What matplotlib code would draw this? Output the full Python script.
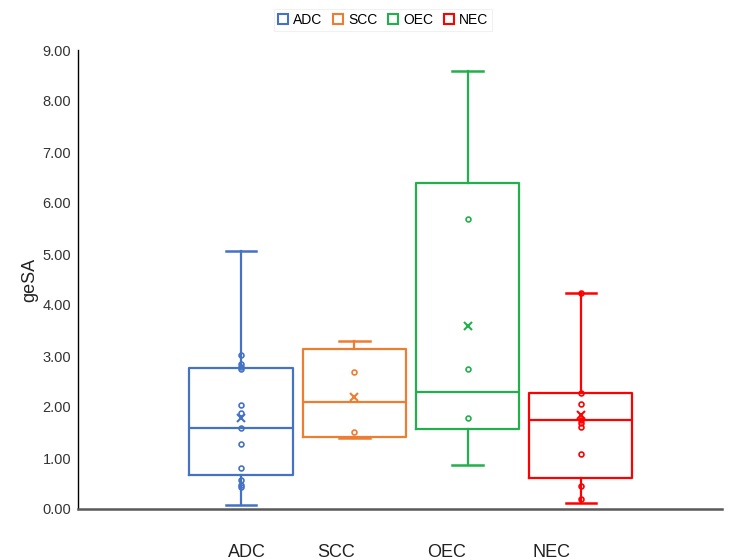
import matplotlib
matplotlib.use('Agg')
import matplotlib.pyplot as plt
from matplotlib.patches import Rectangle

plt.rcParams['font.family'] = ['Liberation Sans', 'DejaVu Sans']

groups = ['ADC', 'SCC', 'OEC', 'NEC']
colors = ['#4472C4', '#ED7D31', '#21B04B', '#FF0000']

# box statistics
whisker_low = [0.08, 1.39, 0.86, 0.12]
q1 = [0.66, 1.41, 1.57, 0.61]
median = [1.59, 2.10, 2.29, 1.75]
q3 = [2.76, 3.14, 6.39, 2.27]
whisker_high = [5.06, 3.30, 8.58, 4.23]
mean = [1.78, 2.20, 3.58, 1.85]

# individual points shown inside the boxes
points = {
    'ADC': [3.02, 2.84, 2.79, 2.74, 2.04, 1.89, 1.59, 1.27, 0.80, 0.57, 0.48, 0.44],
    'SCC': [2.69, 1.51],
    'OEC': [5.68, 2.75, 1.79],
    'NEC': [4.23, 2.27, 2.05, 1.75, 1.69, 1.61, 1.08, 0.46, 0.20],
}

positions = [1, 2, 3, 4]
label_pos = [1.053, 1.838, 2.818, 3.736]  # category labels are offset in the original

fig = plt.figure(figsize=(7.38, 5.6), dpi=100)
ax = fig.add_axes([78 / 738, 51 / 560, 644 / 738, 459 / 560])

for i, g in enumerate(groups):
    stats = [{'whislo': whisker_low[i], 'q1': q1[i], 'med': median[i], 'q3': q3[i],
              'whishi': whisker_high[i], 'mean': mean[i], 'fliers': points[g]}]
    c = colors[i]
    ax.bxp(stats, positions=[positions[i]], widths=0.91, capwidths=0.27,
           showmeans=True, showfliers=True, patch_artist=False,
           boxprops=dict(color=c, linewidth=1.6),
           medianprops=dict(color=c, linewidth=1.6),
           whiskerprops=dict(color=c, linewidth=1.6),
           capprops=dict(color=c, linewidth=1.8),
           meanprops=dict(marker='x', markeredgecolor=c, markersize=6, markeredgewidth=1.5),
           flierprops=dict(marker='o', markerfacecolor='none', markeredgecolor=c,
                           markersize=3.5, markeredgewidth=1.2))

ax.set_xlim(-0.439, 5.245)
ax.set_ylim(0, 9)
ax.set_yticks(range(10))
ax.set_yticklabels(['{:.2f}'.format(v) for v in range(10)], fontsize=10.5, color='#333333')
ax.set_xticks(label_pos)
ax.set_xticklabels(groups, fontsize=13, color='#222222')
ax.tick_params(axis='both', length=0)
ax.tick_params(axis='y', pad=5)
ax.tick_params(axis='x', pad=25)
ax.set_ylabel('geSA', fontsize=13, color='#222222', labelpad=3)

ax.spines['top'].set_visible(False)
ax.spines['right'].set_visible(False)
ax.spines['left'].set_color('black')
ax.spines['left'].set_linewidth(1.0)
ax.spines['bottom'].set_color('#595959')
ax.spines['bottom'].set_linewidth(1.8)

handles = [Rectangle((0, 0), 1, 1, facecolor='none', edgecolor=c, linewidth=1.5) for c in colors]
leg = fig.legend(handles, groups, loc='center', bbox_to_anchor=(0.519, 1 - 20 / 560), ncol=4,
                 fontsize=10, handlelength=0.75, handleheight=0.75, handletextpad=0.35,
                 columnspacing=0.75, frameon=True, fancybox=False, borderpad=0.3)
leg.get_frame().set_edgecolor('#eeeeee')
leg.get_frame().set_linewidth(0.8)

fig.savefig('out.png', dpi=100)
